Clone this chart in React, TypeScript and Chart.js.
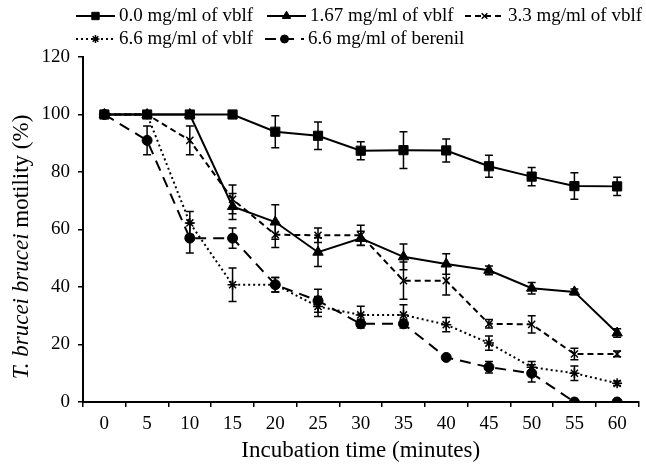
import React, { useEffect, useRef } from 'react';
import { Chart, registerables } from 'chart.js';
import { drawPoint } from 'chart.js/helpers';

Chart.register(...registerables);

const FONT = '"Liberation Serif", "Times New Roman", serif';

const times = ['0', '5', '10', '15', '20', '25', '30', '35', '40', '45', '50', '55', '60'];

const vblf0 = [100, 100, 100, 100, 94, 92.6, 87.4, 87.6, 87.5, 82, 78.4, 75.1, 75];
const vblf0Err = [0, 0, 0, 0, 5.6, 4.8, 3.1, 6.4, 4, 3.8, 3.2, 4.6, 3.2];

const vblf167 = [100, 100, 100, 68, 62.6, 52.1, 56.9, 50.5, 48, 45.8, 39.6, 38.3, 24];
const vblf167Err = [0, 0, 0, 4.5, 6, 5, 2.5, 4.5, 3.6, 1.5, 2, 1, 1.5];

const vblf33 = [100, 100, 91, 70.5, 58.2, 58, 58, 42.2, 42.2, 27.2, 27, 16.7, 16.7];
const vblf33Err = [0, 0, 5, 5, 4.5, 2.5, 3.5, 6.5, 5, 1.5, 3, 2, 1];

const vblf66 = [100, 100, 62.3, 40.8, 40.8, 33.2, 30.3, 30.3, 26.9, 20.5, 12.1, 10, 6.5];
const vblf66Err = [0, 0, 4, 5.8, 2.5, 3.5, 3, 3.5, 2.5, 2.5, 2, 2.5, 0.8];

const berenil = [100, 91, 57, 57, 40.8, 35.2, 27.2, 27.2, 15.5, 12.1, 10, 0, 0];
const berenilErr = [0, 5, 5.2, 3.5, 2.5, 4, 1.5, 1.5, 0, 2, 3, 0, 0];

const seriesLabels = [
  '0.0 mg/ml of vblf',
  '1.67 mg/ml of vblf',
  '3.3 mg/ml of vblf',
  '6.6 mg/ml of vblf',
  '6.6 mg/ml of berenil',
];

const yTicks = [0, 20, 40, 60, 80, 100, 120];

const errorSets = [vblf0Err, vblf167Err, vblf33Err, vblf66Err, berenilErr];

const errorBarPlugin = {
  id: 'errorBars',
  afterDatasetsDraw(chart: any) {
    const ctx = chart.ctx;
    const yScale = chart.scales.y;
    ctx.save();
    ctx.strokeStyle = '#000';
    ctx.lineWidth = 1.5;
    ctx.setLineDash([]);
    chart.data.datasets.forEach((ds: any, i: number) => {
      const meta = chart.getDatasetMeta(i);
      const errs = errorSets[i];
      meta.data.forEach((pt: any, j: number) => {
        const e = errs[j];
        if (!e) return;
        const v = ds.data[j];
        const yTop = yScale.getPixelForValue(v + e);
        const yBot = yScale.getPixelForValue(v - e);
        const x = pt.x;
        const cap = 4;
        ctx.beginPath();
        ctx.moveTo(x, yTop);
        ctx.lineTo(x, yBot);
        ctx.moveTo(x - cap, yTop);
        ctx.lineTo(x + cap, yTop);
        ctx.moveTo(x - cap, yBot);
        ctx.lineTo(x + cap, yBot);
        ctx.stroke();
      });
    });
    ctx.restore();
  },
};

const legendPlugin = {
  id: 'customLegend',
  afterDraw(chart: any) {
    const ctx = chart.ctx;
    const positions = [
      [76, 16],
      [267, 16],
      [465, 16],
      [76, 39],
      [265, 39],
    ];
    ctx.save();
    chart.data.datasets.forEach((ds: any, i: number) => {
      const [x0, y] = positions[i];
      const len = 39;
      ctx.strokeStyle = '#000';
      ctx.lineWidth = ds.borderWidth;
      ctx.setLineDash(ds.borderDash || []);
      ctx.beginPath();
      ctx.moveTo(x0, y);
      ctx.lineTo(x0 + len, y);
      ctx.stroke();
      ctx.setLineDash([]);
      ctx.fillStyle = '#000';
      ctx.strokeStyle = '#000';
      ctx.lineWidth = ds.pointBorderWidth;
      drawPoint(ctx, { pointStyle: ds.pointStyle, rotation: 0, borderWidth: ds.pointBorderWidth, radius: ds.pointRadius * 0.8 }, x0 + len / 2, y);
      ctx.fillStyle = '#000';
      ctx.font = `19px ${FONT}`;
      ctx.textBaseline = 'middle';
      ctx.textAlign = 'left';
      ctx.fillText(ds.label, x0 + len + 4, y);
    });

    // y axis title with mixed italic
    const part1 = 'T. brucei brucei ';
    const part2 = 'motility (%)';
    ctx.font = `italic 23px ${FONT}`;
    const w1 = ctx.measureText(part1).width;
    ctx.font = `23px ${FONT}`;
    const w2 = ctx.measureText(part2).width;
    const total = w1 + w2;
    ctx.translate(22, 247);
    ctx.rotate(-Math.PI / 2);
    ctx.textBaseline = 'middle';
    ctx.textAlign = 'left';
    ctx.font = `italic 23px ${FONT}`;
    ctx.fillText(part1, -total / 2, 0);
    ctx.font = `23px ${FONT}`;
    ctx.fillText(part2, -total / 2 + w1, 0);
    ctx.restore();
  },
};

export default function App() {
  const ref = useRef<HTMLCanvasElement>(null);

  useEffect(() => {
    if (!ref.current) return;
    const common = {
      borderColor: '#000',
      backgroundColor: '#000',
      pointBackgroundColor: '#000',
      pointBorderColor: '#000',
      borderWidth: 2,
      tension: 0,
      fill: false,
    };
    const chart = new Chart(ref.current, {
      type: 'line',
      data: {
        labels: times,
        datasets: [
          { ...common, label: seriesLabels[0], data: vblf0, pointStyle: 'rect', pointRadius: 6.5, pointBorderWidth: 1, borderDash: [] },
          { ...common, label: seriesLabels[1], data: vblf167, pointStyle: 'triangle', pointRadius: 6, pointBorderWidth: 1, borderDash: [] },
          { ...common, label: seriesLabels[2], data: vblf33, pointStyle: 'crossRot', pointRadius: 5, pointBorderWidth: 1.5, borderDash: [6, 4] },
          { ...common, label: seriesLabels[3], data: vblf66, pointStyle: 'star', pointRadius: 5, pointBorderWidth: 1.5, borderDash: [2, 3] },
          { ...common, label: seriesLabels[4], data: berenil, pointStyle: 'circle', pointRadius: 5, pointBorderWidth: 1, borderDash: [11, 7] },
        ] as any,
      },
      options: {
        animation: false,
        responsive: false,
        devicePixelRatio: 1,
        layout: { padding: { top: 57, right: 6, left: 0, bottom: 0 } },
        plugins: {
          legend: { display: false },
          tooltip: { enabled: false },
        },
        scales: {
          x: {
            type: 'category',
            offset: true,
            grid: {
              offset: true,
              drawOnChartArea: false,
              drawTicks: true,
              tickLength: 5,
              color: '#000',
              lineWidth: 1.5,
            },
            border: { display: true, color: '#000', width: 2 },
            ticks: {
              color: '#000',
              font: { family: FONT, size: 19 },
              padding: 6,
              maxRotation: 0,
              autoSkip: false,
            },
            title: {
              display: true,
              text: 'Incubation time (minutes)',
              color: '#000',
              font: { family: FONT, size: 23 },
              padding: { top: 6, bottom: 0 },
            },
            afterFit: (s: any) => {
              s.height = 63;
            },
          },
          y: {
            min: 0,
            max: 120,
            afterBuildTicks: (s: any) => {
              s.ticks = yTicks.map((v) => ({ value: v }));
            },
            grid: {
              drawOnChartArea: false,
              drawTicks: true,
              tickLength: 5,
              color: '#000',
              lineWidth: 1.5,
            },
            border: { display: true, color: '#000', width: 2 },
            ticks: {
              color: '#000',
              font: { family: FONT, size: 19 },
              padding: 8,
            },
            afterFit: (s: any) => {
              s.width = 83;
            },
          },
        },
      },
      plugins: [errorBarPlugin, legendPlugin],
    } as any);
    return () => chart.destroy();
  }, []);

  return (
    <div style={{ position: 'absolute', left: 0, top: 0, width: 646, height: 465, background: '#fff' }}>
      <canvas ref={ref} width={646} height={465} style={{ width: 646, height: 465 }} />
    </div>
  );
}
